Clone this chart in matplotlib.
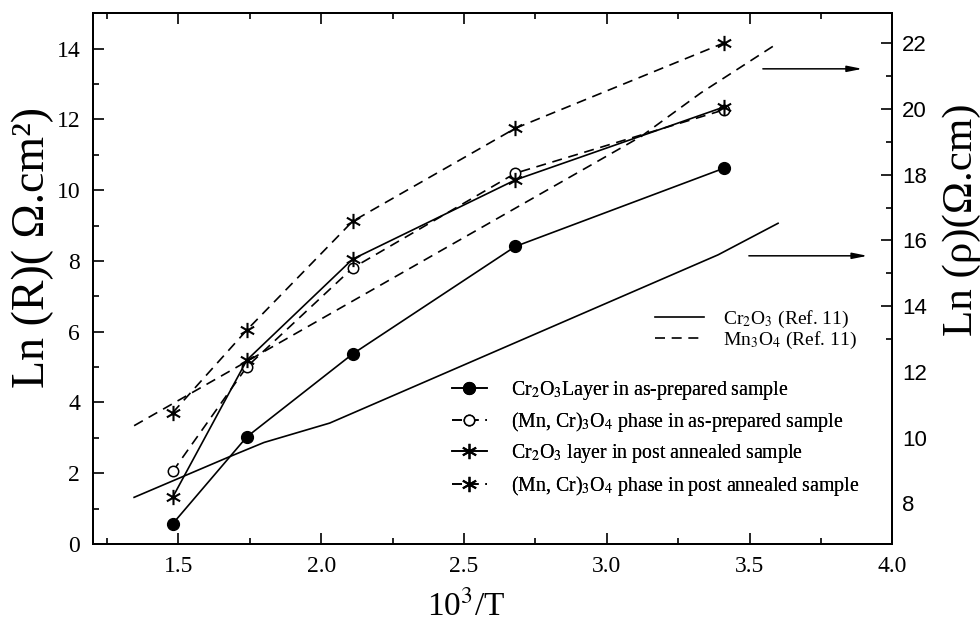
import numpy as np
import matplotlib
matplotlib.use('Agg')
import matplotlib.pyplot as plt
from matplotlib.path import Path
from matplotlib.ticker import MultipleLocator

plt.rcParams['font.family'] = ['Liberation Serif', 'DejaVu Serif']
plt.rcParams['mathtext.fontset'] = 'stix'

# 10^3/T values of the measured points
inv_T = [1.48, 1.74, 2.11, 2.68, 3.41]
cr_prep = [0.57, 3.03, 5.37, 8.41, 10.62]
mn_prep = [2.05, 5.01, 7.80, 10.48, 12.27]
cr_ann = [1.32, 5.20, 8.05, 10.29, 12.35]
mn_ann = [3.71, 6.05, 9.12, 11.75, 14.16]

# reference curves (Ref. 11), right axis Ln(rho)
cr_ref_x = [1.345, 1.68, 1.80, 2.03, 3.39, 3.60]
cr_ref_y = [8.18, 9.42, 9.85, 10.44, 15.56, 16.52]
mn_ref_x = [1.345, 3.12, 3.33, 3.59]
mn_ref_y = [10.36, 19.16, 20.49, 21.95]

# asterisk marker: vertical + two diagonals
verts, codes = [], []
for a in [90, 30, -30]:
    dx, dy = np.cos(np.radians(a)), np.sin(np.radians(a))
    verts += [(-dx, -dy), (dx, dy)]
    codes += [Path.MOVETO, Path.LINETO]
ast = Path(verts, codes)

dash = (0, (6, 4))
lw = 1.2

fig = plt.figure(figsize=(9.8, 6.28), dpi=100)
ax = fig.add_axes([92.7/980, 1-544/628, (892.3-92.7)/980, (544-13.3)/628])
ax2 = ax.twinx()

l1, = ax.plot(inv_T, cr_prep, '-', color='k', lw=lw, marker='o', ms=8.5, mfc='k', mec='k')
l2, = ax.plot(inv_T, mn_prep, linestyle=dash, color='k', lw=lw, marker='o', ms=7.5, mfc='white', mec='k', mew=1.1)
l3, = ax.plot(inv_T, cr_ann, '-', color='k', lw=lw, marker=ast, ms=11, mew=1.5)
l4, = ax.plot(inv_T, mn_ann, linestyle=dash, color='k', lw=lw, marker=ast, ms=11, mew=1.5)

r1, = ax2.plot(cr_ref_x, cr_ref_y, '-', color='k', lw=lw)
r2, = ax2.plot(mn_ref_x, mn_ref_y, linestyle=dash, color='k', lw=lw)

ax2.annotate('', xy=(3.905, 21.22), xytext=(3.537, 21.22),
             arrowprops=dict(arrowstyle='-|>,head_length=0.9,head_width=0.18', color='k', lw=1.1))
ax2.annotate('', xy=(3.923, 15.53), xytext=(3.488, 15.53),
             arrowprops=dict(arrowstyle='-|>,head_length=0.9,head_width=0.18', color='k', lw=1.1))

ax.set_xlim(1.2, 4.0)
ax.set_ylim(0, 15)
ax2.set_ylim(6.76, 22.91)

ax.xaxis.set_major_locator(MultipleLocator(0.5))
ax.xaxis.set_minor_locator(MultipleLocator(0.25))
ax.yaxis.set_major_locator(MultipleLocator(2))
ax.yaxis.set_minor_locator(MultipleLocator(1))
ax2.yaxis.set_minor_locator(MultipleLocator(1))

ax.tick_params(which='both', direction='in', top=True, right=False, width=1.2)
ax.tick_params(which='major', length=8, labelsize=17, pad=9)
ax.tick_params(which='minor', length=4.5)
ax2.tick_params(which='both', direction='in', width=1.2)
ax2.tick_params(which='major', length=8, labelsize=16, pad=7)
ax2.tick_params(which='minor', length=4.5)
for sp in ax.spines.values():
    sp.set_linewidth(1.4)
for sp in ax2.spines.values():
    sp.set_linewidth(1.4)

ax2.set_yticks(np.arange(8, 23, 2))
ax2.set_yticklabels([str(v) for v in range(8, 23, 2)], family='Liberation Sans', fontsize=16)
# the original right axis has no tick marks below ~13
fig.canvas.draw()
for t in ax2.yaxis.get_major_ticks():
    if t.get_loc() < 13:
        t.tick2line.set_visible(False)
for t in ax2.yaxis.get_minor_ticks():
    if t.get_loc() < 13:
        t.tick2line.set_visible(False)

fig.text(33/980, 1-247/628, 'Ln (R)( \u03a9.cm\u00b2)', rotation=90, ha='center', va='center', fontsize=33)
fig.text(962/980, 1-220/628, 'Ln (\u03c1)(\u03a9.cm)', rotation=90, ha='center', va='center', fontsize=31)
fig.text(466/980, 1-606/628, r'10$^3$/T', ha='center', va='center', fontsize=24)

leg1 = ax.legend([l1, l2, l3, l4],
                 [r'Cr$_2$O$_3$Layer in as-prepared sample',
                  r'(Mn, Cr)$_3$O$_4$ phase in as-prepared sample',
                  r'Cr$_2$O$_3$ layer in post annealed sample',
                  r'(Mn, Cr)$_3$O$_4$ phase in post annealed sample'],
                 loc='upper left', bbox_to_anchor=(451.7/980, 1-378.5/628),
                 bbox_transform=fig.transFigure, frameon=False, fontsize=14.3,
                 handlelength=1.76, handletextpad=1.25, labelspacing=0.42,
                 borderpad=0, borderaxespad=0)
ax.add_artist(leg1)
ax2.legend([r1, r2], [r'Cr$_2$O$_3$ (Ref. 11)', r'Mn$_3$O$_4$ (Ref. 11)'],
           loc='upper left', bbox_to_anchor=(655/980, 1-309/628),
           bbox_transform=fig.transFigure, frameon=False, fontsize=14,
           handlelength=2.5, handletextpad=1.0, labelspacing=0.0,
           borderpad=0, borderaxespad=0)

fig.savefig('out.png', dpi=100)
